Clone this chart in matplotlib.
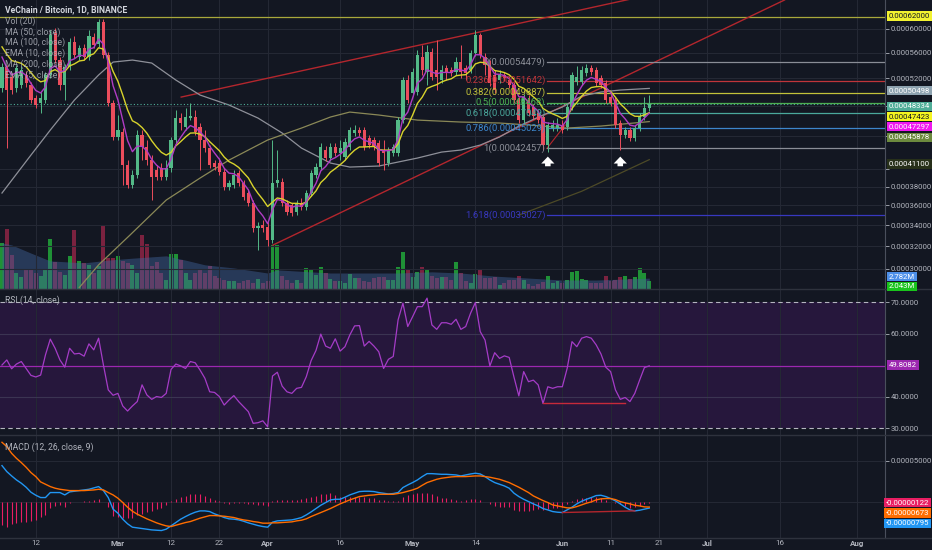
import datetime as dt
import numpy as np
import matplotlib
matplotlib.use("Agg")
import matplotlib.pyplot as plt
from matplotlib.ticker import NullLocator
from matplotlib.lines import Line2D

# daily candles VEN/BTC from 2018-02-05, prices in 1e-6 BTC
start = dt.date(2018, 2, 5)

opens = [505.5, 537.1, 521.9, 505.5, 509.9, 524.9, 509.9, 491.1, 484.1, 488.3,
         524.9, 592.6, 548.1, 509.9, 537.1, 577.4, 552.9, 567.4, 552.9, 585.8,
         574.0, 611.7, 556.1, 484.1, 438.8, 445.1, 404.7, 381.9, 393.1, 441.3,
         426.3, 410.5, 398.8, 401.2, 390.9, 401.2, 435.0, 463.5, 451.6, 463.5,
         464.9, 451.6, 435.0, 425.0, 406.9, 406.9, 396.5, 379.7, 381.9, 395.4,
         384.1, 373.2, 362.6, 337.2, 340.2, 338.2, 325.8, 384.1, 385.2, 362.6,
         360.5, 353.2, 362.6, 358.4, 373.2, 393.1, 402.3, 422.6, 412.9, 426.3,
         418.9, 414.1, 426.3, 443.9, 447.7, 447.7, 437.5, 435.0, 431.2, 422.6,
         406.9, 418.9, 418.9, 460.8, 517.3, 498.3, 499.7, 552.9, 529.4, 560.9,
         532.5, 517.3, 535.6, 532.5, 529.4, 544.9, 535.6, 532.5, 559.3, 589.2,
         552.9, 540.2, 524.9, 517.3, 524.9, 517.3, 509.9, 488.3, 460.8, 488.3,
         478.5, 470.3, 464.9, 428.7, 450.3, 450.3, 454.3, 451.6, 478.5, 514.4,
         514.4, 527.9, 535.6, 532.5, 520.4, 512.9, 492.5, 488.3, 456.9, 441.3,
         447.7, 437.5, 450.3, 464.9, 477.1]
highs = [543.4, 540.2, 527.9, 540.2, 538.7, 531.0, 514.4, 495.4, 499.7, 529.4,
         597.8, 601.2, 552.9, 541.8, 584.1, 587.5, 572.4, 574.0, 597.8, 592.6,
         617.0, 617.0, 560.9, 488.3, 467.6, 450.3, 410.5, 398.8, 447.7, 447.7,
         435.0, 416.5, 404.7, 406.9, 410.5, 438.8, 474.4, 470.3, 477.1, 484.1,
         474.4, 456.9, 447.7, 428.7, 410.5, 412.9, 401.2, 387.5, 398.8, 398.8,
         387.5, 376.4, 365.7, 343.2, 345.2, 343.2, 435.0, 422.6, 389.7, 365.7,
         362.6, 365.7, 367.9, 376.4, 398.8, 406.9, 431.2, 427.5, 431.2, 431.2,
         435.0, 437.5, 451.6, 454.3, 451.6, 451.6, 441.3, 438.8, 435.0, 435.0,
         426.3, 430.0, 464.9, 521.9, 524.9, 535.6, 564.2, 572.4, 572.4, 567.4,
         580.7, 540.2, 540.2, 537.1, 552.9, 572.4, 540.2, 564.2, 597.8, 592.6,
         559.3, 548.1, 532.5, 532.5, 529.4, 523.4, 514.4, 492.5, 496.8, 495.4,
         482.7, 474.4, 468.9, 458.2, 460.8, 463.5, 460.8, 482.7, 529.4, 538.7,
         538.7, 541.8, 540.2, 537.1, 524.9, 517.3, 496.8, 492.5, 460.8, 451.6,
         451.6, 454.3, 470.3, 492.5, 495.4]
lows = [499.7, 425.0, 496.8, 499.7, 505.5, 507.0, 484.1, 477.1, 470.3, 484.1,
        520.4, 543.4, 502.6, 488.3, 532.5, 551.3, 548.1, 548.1, 548.1, 567.4,
        569.1, 551.3, 479.9, 435.0, 435.0, 381.9, 378.6, 378.6, 389.7, 410.5,
        404.7, 365.7, 387.5, 387.5, 387.5, 396.5, 431.2, 447.7, 447.7, 460.8,
        441.3, 398.8, 420.1, 401.2, 398.8, 393.1, 376.4, 376.4, 378.6, 380.8,
        365.7, 359.4, 333.4, 316.5, 333.4, 320.2, 323.0, 379.7, 359.4, 350.2,
        349.2, 350.2, 355.3, 355.3, 370.0, 389.7, 398.8, 409.3, 409.3, 415.3,
        410.5, 410.5, 422.6, 440.0, 440.0, 422.6, 425.0, 422.6, 403.5, 398.8,
        403.5, 415.3, 415.3, 456.9, 484.1, 494.0, 495.4, 524.9, 509.9, 517.3,
        502.6, 512.9, 517.3, 523.4, 524.9, 520.4, 517.3, 527.9, 554.5, 551.3,
        524.9, 508.5, 498.3, 512.9, 515.8, 505.5, 484.1, 456.9, 456.9, 466.2,
        462.2, 456.9, 422.6, 420.1, 446.4, 446.4, 443.9, 447.7, 474.4, 509.9,
        509.9, 523.4, 524.9, 508.5, 505.5, 484.1, 479.9, 450.3, 422.6, 437.5,
        433.7, 433.7, 446.4, 460.8, 473.0]
closes = [537.1, 502.6, 502.6, 535.6, 532.5, 512.9, 488.3, 481.3, 491.1, 524.9,
          589.2, 548.1, 509.9, 537.1, 577.4, 556.1, 567.4, 552.9, 587.5, 572.4,
          611.7, 556.1, 484.1, 438.8, 447.7, 404.7, 381.9, 393.1, 441.3, 426.3,
          410.5, 390.9, 390.9, 390.9, 401.2, 435.0, 463.5, 456.9, 464.9, 466.2,
          445.1, 435.0, 425.0, 404.7, 402.3, 396.5, 379.7, 384.1, 393.1, 384.1,
          369.0, 362.6, 337.2, 339.2, 337.2, 325.8, 384.1, 387.5, 362.6, 353.2,
          352.2, 362.6, 358.4, 373.2, 395.4, 402.3, 426.3, 412.9, 426.3, 418.9,
          425.0, 432.5, 447.7, 447.7, 443.9, 426.3, 428.7, 427.5, 406.9, 418.9,
          422.6, 426.3, 460.8, 517.3, 488.3, 529.4, 556.1, 532.5, 560.9, 521.9,
          521.9, 532.5, 529.4, 527.9, 544.9, 529.4, 527.9, 559.3, 589.2, 556.1,
          540.2, 512.9, 502.6, 524.9, 520.4, 509.9, 488.3, 460.8, 492.5, 470.3,
          466.2, 460.8, 428.7, 454.3, 454.3, 454.3, 447.7, 478.5, 524.9, 521.9,
          532.5, 535.6, 529.4, 512.9, 509.9, 488.3, 484.1, 454.3, 441.3, 447.7,
          437.5, 450.3, 464.9, 477.1, 483.34]

# volume in millions
volumes = [11.8, 15.4, 8.7, 4.1, 3.1, 4.9, 4.9, 4.1, 3.3, 4.9,
           12.8, 6.9, 4.4, 3.6, 8.5, 15.1, 7.2, 6.7, 6.2, 4.1,
           5.9, 16.2, 7.9, 7.9, 8.5, 7.2, 6.7, 6.2, 4.1, 13.8,
           11.5, 5.9, 6.9, 4.1, 2.3, 9.0, 9.0, 7.4, 4.1, 2.3,
           4.1, 5.1, 4.1, 5.9, 3.3, 2.8, 2.3, 2.1, 2.1, 1.5,
           2.1, 2.3, 1.5, 2.6, 1.5, 2.1, 11.3, 11.3, 3.3, 2.3,
           1.5, 2.3, 1.5, 5.4, 4.9, 3.6, 5.6, 4.1, 2.6, 2.1,
           2.1, 1.5, 3.8, 2.8, 2.8, 2.1, 1.8, 2.8, 3.1, 3.1,
           2.3, 2.3, 5.6, 9.5, 4.9, 3.1, 4.4, 5.6, 5.1, 3.3,
           2.8, 3.1, 3.1, 2.3, 6.9, 4.1, 2.1, 1.5, 3.8, 4.9,
           2.8, 2.8, 3.1, 1.0, 1.5, 2.3, 2.3, 3.3, 2.3, 1.3,
           0.8, 1.3, 1.8, 3.3, 1.5, 2.1, 1.5, 2.3, 4.4, 4.6,
           2.6, 2.3, 1.5, 1.5, 1.5, 3.3, 2.1, 2.3, 3.1, 3.3,
           2.6, 3.1, 5.4, 4.1, 2.043]
vol_ma_days = [0, 2, 6, 10, 17, 22, 27, 34, 38, 42, 48, 55, 57, 68, 75, 82, 89, 95, 102, 109, 116, 123, 134]
vol_ma = [11.8, 11.3, 9.2, 7.2, 6.7, 7.4, 7.9, 8.5, 7.4, 6.2, 5.4, 4.1, 4.9, 4.1, 4.1, 4.1, 4.4, 4.1, 3.3, 2.8, 2.3, 2.3, 2.782]

# moving averages (1e-6 BTC)
ma50_days = [0, 6, 10, 15, 20, 23, 27, 31, 36, 41, 47, 53, 58, 62, 68, 72, 78, 86, 91, 95, 99, 103, 107, 112, 116, 120, 124, 128, 134]
ma50 = [373.2, 416.5, 447.7, 488.3, 524.9, 544.9, 548.1, 543.4, 517.3, 495.4, 481.3, 463.5, 443.9, 425.0, 407.0,
        402.3, 403.5, 412.9, 420.1, 422.6, 428.7, 438.8, 452.9, 467.6, 478.5, 494.0, 499.7, 502.6, 504.98]
ma100_days = [16, 20, 26.5, 34, 41, 47, 55, 62, 68, 72, 78, 86, 95, 103, 109, 117, 124, 134]
ma100 = [284.0, 303.2, 330.5, 365.7, 389.7, 410.5, 435.0, 450.3, 464.9, 471.6, 467.6, 460.8, 458.2, 456.9, 454.3,
         450.3, 452.9, 458.78]
ma200_days = [107, 120, 134]
ma200 = [350.2, 375.1, 411.0]
ema10_start, ema5_start = 569.4, 552.9
ema10_last, ema5_last = 474.23, 472.97

rsi = [50.1, 51.7, 48.9, 50.4, 51.2, 49.0, 46.8, 46.3, 46.9, 53.3,
       58.3, 55.4, 51.7, 49.4, 55.4, 53.6, 53.8, 52.9, 56.8, 54.9,
       58.6, 50.1, 42.2, 40.5, 41.1, 37.1, 35.5, 37.1, 38.5, 43.8,
       40.6, 39.2, 40.1, 39.8, 41.1, 48.7, 50.4, 49.8, 49.0, 51.2,
       50.8, 48.5, 45.9, 41.6, 41.4, 40.1, 37.4, 39.0, 40.4, 38.5,
       36.9, 35.3, 31.6, 31.8, 32.4, 30.5, 46.6, 47.8, 43.4, 41.6,
       41.1, 42.7, 43.0, 46.4, 51.5, 54.7, 59.9, 56.1, 55.4, 58.4,
       54.5, 55.9, 59.6, 62.5, 62.6, 56.1, 57.6, 56.1, 54.3, 49.0,
       51.9, 52.8, 64.4, 69.7, 62.3, 65.4, 68.6, 68.6, 71.3, 62.8,
       61.4, 63.5, 63.5, 63.0, 64.6, 61.4, 62.3, 66.5, 69.9, 60.7,
       58.0, 49.8, 54.0, 52.2, 53.0, 52.5, 46.2, 40.3, 48.0, 44.8,
       45.3, 43.8, 37.9, 43.2, 42.7, 43.2, 43.2, 49.0, 57.5, 55.9,
       58.6, 59.1, 58.6, 56.5, 53.6, 49.4, 48.0, 42.2, 39.2, 39.8,
       38.5, 41.1, 45.3, 49.3, 49.8082]

# MACD and signal in 1e-6 BTC
macd = [43.9, 36.6, 31.3, 26.4, 22.4, 17.5, 11.4, 7.7, 4.9, 4.9,
        11.0, 11.0, 11.0, 8.1, 11.8, 12.6, 13.4, 14.2, 15.0, 16.7,
        18.3, 13.4, 4.9, -9.3, -14.2, -21.5, -27.2, -31.3, -32.1, -32.9,
        -33.7, -34.6, -35.0, -35.4, -33.7, -29.7, -25.6, -21.5, -18.3, -15.4,
        -13.0, -11.4, -11.4, -12.2, -15.0, -17.1, -19.5, -21.1, -21.5, -22.4,
        -24.0, -26.0, -27.6, -29.3, -30.5, -31.3, -25.2, -23.6, -23.2, -22.8,
        -22.4, -21.1, -19.5, -16.3, -12.6, -8.5, -4.5, -1.2, 2.0, 2.8,
        2.8, 5.3, 8.1, 10.2, 12.2, 12.6, 12.6, 12.2, 11.0, 10.2,
        9.3, 9.8, 11.0, 17.1, 20.3, 23.2, 26.4, 30.5, 34.1, 34.1,
        33.7, 33.3, 33.3, 32.9, 32.5, 31.3, 32.5, 33.7, 34.6, 33.7,
        30.5, 26.4, 23.2, 21.1, 19.1, 16.3, 10.2, 6.1, 2.8, 0.0,
        -2.8, -5.3, -8.5, -10.2, -12.2, -13.0, -13.4, -10.2, -6.9, -2.8,
        0.4, 2.8, 4.9, 7.3, 7.7, 6.1, 3.7, 0.8, -2.8, -6.9,
        -10.2, -11.4, -10.6, -9.3, -7.95]
signal = [72.4, 67.1, 58.9, 52.8, 47.6, 41.9, 35.4, 30.5, 24.0, 21.1,
          18.3, 16.3, 15.0, 14.2, 13.4, 13.4, 13.4, 13.4, 13.8, 14.2,
          15.0, 14.2, 11.0, 8.1, 4.1, -1.2, -6.9, -11.8, -15.4, -18.3,
          -21.1, -23.6, -26.0, -28.0, -29.7, -30.5, -28.9, -27.2, -25.6, -24.4,
          -22.4, -20.3, -18.7, -17.1, -17.1, -17.5, -17.9, -18.7, -19.5, -21.1,
          -22.4, -23.2, -24.4, -25.2, -26.4, -26.4, -26.0, -26.0, -25.6, -25.2,
          -24.8, -23.6, -22.8, -21.1, -18.3, -15.9, -13.4, -11.0, -8.5, -5.7,
          -2.8, -0.4, 2.0, 4.1, 6.1, 6.9, 7.7, 8.1, 8.9, 8.9,
          8.9, 8.9, 9.8, 11.0, 12.6, 14.2, 16.3, 19.9, 23.2, 25.2,
          27.2, 28.5, 29.3, 30.1, 30.5, 30.5, 30.5, 30.9, 31.3, 31.3,
          30.5, 29.7, 28.5, 27.2, 25.2, 23.2, 20.3, 17.5, 14.2, 11.0,
          6.9, 4.1, 1.2, -1.2, -4.1, -5.3, -6.5, -7.7, -7.7, -6.1,
          -4.1, -2.0, -0.4, 2.0, 3.3, 3.7, 3.7, 2.4, 0.0, -1.6,
          -2.8, -4.5, -5.3, -6.5, -6.73]

# drawings
fib_ratios = [0, 0.236, 0.382, 0.5, 0.618, 0.786, 1, 1.618]
fib_prices = [544.79, 516.42, 498.87, 484.68, 470.49, 450.29, 424.57, 350.27]
fib_colors = ["#8a8d96", "#c0353a", "#c2c23a", "#4caf50", "#4aa89c", "#3d86cc", "#8a8d96", "#3838c0"]
fib_start = 112.8
upper_channel = ([37.1, 140.0], [492.5, 673.7])
lower_channel = ([56.1, 162.0], [321.1, 652.0])
resistance = 620.0
arrow_days = [113, 128]
rsi_line = ([112, 129], [37.9, 37.9])
macd_line = ([116, 131], [-13.4, -11.4])

tick_dates = [dt.date(2018, 2, 12), dt.date(2018, 3, 1), dt.date(2018, 3, 12), dt.date(2018, 3, 22),
              dt.date(2018, 4, 1), dt.date(2018, 4, 16), dt.date(2018, 5, 1), dt.date(2018, 5, 14),
              dt.date(2018, 6, 1), dt.date(2018, 6, 11), dt.date(2018, 6, 21), dt.date(2018, 7, 1),
              dt.date(2018, 7, 16), dt.date(2018, 8, 1)]
tick_labels = ["12", "Mar", "12", "22", "Apr", "16", "May", "14", "Jun", "11", "21", "Jul", "16", "Aug"]

W, H = 932, 550
BG = "#131722"
GRID = "#242834"
TXT = "#b2b5be"
plt.rcParams["font.family"] = ["Roboto", "DejaVu Sans"]

E = 1e-6
o, h, l, c = (np.array(a) * E for a in (opens, highs, lows, closes))
days = np.arange(len(closes))
tick_pos = [(d - start).days for d in tick_dates]

fig = plt.figure(figsize=(W / 100, H / 100), dpi=100, facecolor=BG)


def rect(top, bottom):
    return [0, 1 - bottom / H, 885 / W, (bottom - top) / H]


ax = fig.add_axes(rect(0, 289))
ax_rsi = fig.add_axes(rect(289, 435), sharex=ax)
ax_macd = fig.add_axes(rect(435, 537.5), sharex=ax)
axv = ax.twinx()
ax.set_zorder(axv.get_zorder() + 1)
ax.patch.set_visible(False)
axv.set_facecolor(BG)

for a in (ax, ax_rsi, ax_macd, axv):
    for s in a.spines.values():
        s.set_visible(False)
for a in (ax, ax_rsi, ax_macd):
    a.set_facecolor(BG)
    a.spines["right"].set_visible(True)
    a.spines["right"].set_color("#4a4f5c")
    a.yaxis.tick_right()
    a.tick_params(axis="y", colors=TXT, labelsize=5.6, length=3, width=0.6, pad=1)
    a.tick_params(axis="x", length=0, labelbottom=False)
    a.set_xticks(tick_pos)
    a.grid(True, axis="x", color=GRID, lw=0.8)
ax.set_xlim(-0.41, 182.8)

# volume overlay
up = c >= o
axv.bar(days, volumes, width=0.82, color=np.where(up, "#22a83a", "#8e2545"), alpha=0.85, lw=0)
axv.fill_between(vol_ma_days, vol_ma, color="#41639c", alpha=0.45, lw=0)
axv.set_ylim(0, 74.1)
axv.set_yticks([])

# price panel
ax.set_yscale("log")
ax.set_ylim(282.8 * E, 652 * E)
price_ticks = [300, 320, 340, 360, 380, 400, 440, 480, 520, 560, 600]
hidden = (400, 440, 480)
ax.set_yticks([p * E for p in price_ticks],
              labels=["" if p in hidden else f"{p * E:.8f}" for p in price_ticks])
ax.yaxis.set_minor_locator(NullLocator())
ax.grid(True, axis="y", color=GRID, lw=0.8)

ax.axhline(resistance * E, color="#a9a83b", lw=0.9, zorder=2)
ax.plot(upper_channel[0], np.array(upper_channel[1]) * E, color="#b3262d", lw=1, zorder=2)
ax.plot(lower_channel[0], np.array(lower_channel[1]) * E, color="#b3262d", lw=1, zorder=2)
ax.plot([fib_start, 116.6], [424.57 * E, 454.3 * E], color="#b3262d", lw=0.8, zorder=2)

for r, p, col in zip(fib_ratios, fib_prices, fib_colors):
    ax.plot([fib_start, 182.8], [p * E, p * E], color=col, lw=0.9, zorder=2)
    ax.text(fib_start - 0.3, p * E, f"{r:g}({p * E:.8f})", color=col, fontsize=6.8,
            ha="right", va="center", zorder=6)

ax.plot(ma50_days, np.array(ma50) * E, color="#8e9099", lw=0.9, zorder=2)
ax.plot(ma100_days, np.array(ma100) * E, color="#8b8957", lw=0.9, zorder=2)
ax.plot(ma200_days, np.array(ma200) * E, color="#4d4a27", lw=0.9, zorder=2)
ax.axhline(c[-1], color="#4fae98", lw=0.8, ls=(0, (1, 2)), zorder=2)

col = np.where(up, "#53b987", "#eb4d5c")
ax.vlines(days, l, h, color=col, lw=0.7, zorder=3)
body = np.maximum(np.abs(c - o), c * 0.003)
ax.bar(days, body, bottom=np.minimum(o, c), width=0.66, color=col, lw=0, zorder=3)


def ema(values, span, first):
    k = 2 / (span + 1)
    out = [first]
    for v in values[1:]:
        out.append(k * v + (1 - k) * out[-1])
    return np.array(out)


ax.plot(days, ema(closes, 10, ema10_start) * E, color="#d8d32c", lw=1, zorder=4)
ax.plot(days, ema(closes, 5, ema5_start) * E, color="#b03cc4", lw=1, zorder=4)

for d in arrow_days:
    ax.annotate("", xy=(d, 418 * E), xytext=(d, 400 * E), zorder=6,
                arrowprops=dict(arrowstyle="simple,head_length=0.5,head_width=0.95,tail_width=0.4",
                                color="white", lw=0))

# RSI panel
ax_rsi.set_ylim(27.9, 74.2)
ax_rsi.axhspan(30, 70, color="#6a1b9a", alpha=0.22, lw=0)
for v in (40, 60):
    ax_rsi.axhline(v, color="#3b3452", lw=0.8)
for v in (30, 70):
    ax_rsi.axhline(v, color="#b5b5c0", lw=0.8, ls=(0, (4, 3)))
ax_rsi.axhline(rsi[-1], color="#9c27b0", lw=0.9)
ax_rsi.plot(days, rsi, color="#a53cc7", lw=0.9)
ax_rsi.plot(rsi_line[0], rsi_line[1], color="#c62a3a", lw=1)
ax_rsi.set_yticks([30, 40, 60, 70], labels=["30.0000", "40.0000", "60.0000", "70.0000"])

# MACD panel
m = np.array(macd) * E
s = np.array(signal) * E
ax_macd.set_ylim(-43.9 * E, 81.3 * E)
ax_macd.set_yticks([0, 50 * E], labels=["", "0.00005000"])
ax_macd.grid(True, axis="y", color=GRID, lw=0.8)
ax_macd.vlines(days, 0, m - s, color="#e91e63", lw=0.8)
ax_macd.plot(days, m, color="#2196f3", lw=1)
ax_macd.plot(days, s, color="#ff6d00", lw=1)
ax_macd.plot(macd_line[0], np.array(macd_line[1]) * E, color="#b3262d", lw=1)

ax_macd.tick_params(axis="x", labelbottom=True, colors=TXT, labelsize=5.8, pad=2)
ax_macd.set_xticklabels(tick_labels)
for t in ax_macd.get_xticklabels():
    if not t.get_text().isdigit():
        t.set_fontweight("bold")

# panel separators
for y in (289, 435, 537.5):
    fig.add_artist(Line2D([0, 1], [1 - y / H] * 2, color="#2e323d", lw=1))

# legend text
fig.text(5 / W, 1 - 10 / H, "VeChain / Bitcoin, 1D, BINANCE", color="#d1d4dc", fontsize=6.2,
         fontweight="bold", va="center")
legend = ["Vol (20)", "MA (50, close)", "MA (100, close)", "EMA (10, close)", "MA (200, close)", "EMA (5, close)"]
for i, t in enumerate(legend):
    fig.text(5 / W, 1 - (21 + 10.8 * i) / H, t, color=TXT, fontsize=6.2, va="center", alpha=0.85)
fig.text(5 / W, 1 - 300 / H, "RSI (14, close)", color=TXT, fontsize=6.2, va="center")
fig.text(5 / W, 1 - 447 / H, "MACD (12, 26, close, 9)", color=TXT, fontsize=6.2, va="center")


def tag(y, text, bg, fg="white", x=889):
    fig.text(x / W, 1 - y / H, text, color=fg, fontsize=5.6, va="center", ha="left",
             bbox=dict(boxstyle="square,pad=0.22", fc=bg, ec="none"))


tag(16, f"{resistance * E:.8f}", "#f2f230", "#131722")
tag(90.7, f"{ma50[-1] * E:.8f}", "#8ea3b0")
tag(106.3, f"{c[-1]:.8f}", "#4fae98")
tag(116.7, f"{ema10_last * E:.8f}", "#f5f51f", "#131722")
tag(126.7, f"{ema5_last * E:.8f}", "#f018f0")
tag(137.3, f"{ma100[-1] * E:.8f}", "#6c8a3e")
tag(164, f"{ma200[-1] * E:.8f}", "#27301a")
tag(276.7, f"{vol_ma[-1]:.3f}M", "#4d8fe8")
tag(286.5, f"{volumes[-1]:.3f}M", "#19c41c")
tag(365, f"{rsi[-1]:.4f}", "#9c27b0")
tag(502.7, f"{(macd[-1] - signal[-1]) * E:.8f}", "#e91e63", x=886)
tag(513, f"{signal[-1] * E:.8f}", "#ff6d00", x=886)
tag(523.3, f"{macd[-1] * E:.8f}", "#2196f3", x=886)

fig.savefig("out.png", dpi=100, facecolor=BG)
